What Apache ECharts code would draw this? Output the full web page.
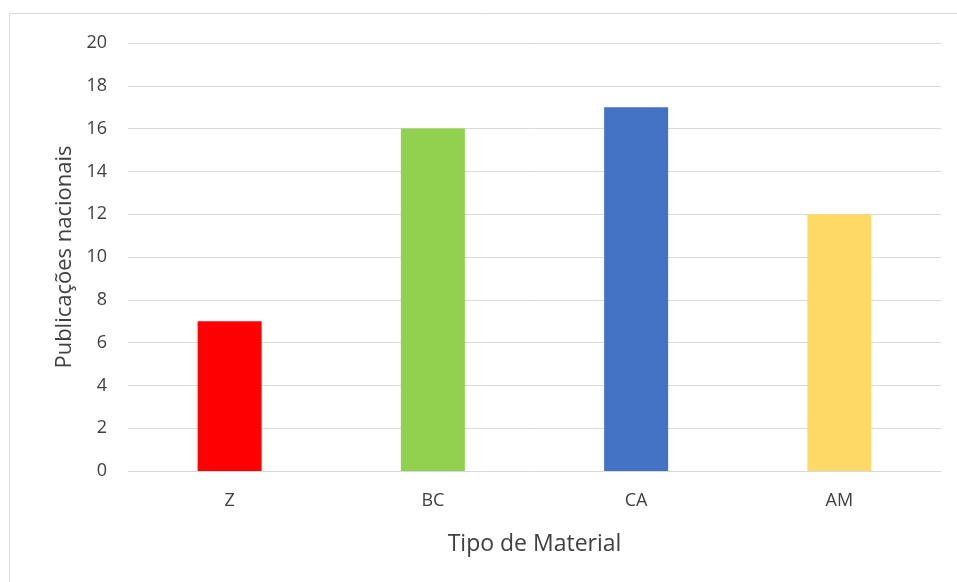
<!DOCTYPE html>
<html>
<head>
<meta charset="utf-8">
<script src="https://cdn.jsdelivr.net/npm/echarts@6/dist/echarts.min.js"></script>
<style>
  html, body { margin: 0; padding: 0; background: #fff; }
  #chart { width: 957px; height: 582px; }
</style>
</head>
<body>
<div id="chart"></div>
<script>
// data
const categories = ['Z', 'BC', 'CA', 'AM'];
const values = [7, 16, 17, 12];
const barColors = ['#FF0000', '#92D050', '#4472C4', '#FFD966'];

const textColor = '#404040';
const font = '"Open Sans", "Noto Sans", sans-serif';

const myChart = echarts.init(document.getElementById('chart'));

const option = {
    backgroundColor: '#fff',
    animation: false,
    graphic: [
        {
            type: 'rect',
            shape: { x: 9.5, y: 13.5, width: 980, height: 600 },
            style: { fill: 'none', stroke: '#d9d9d9', lineWidth: 1 },
            silent: true
        }
    ],
    grid: {
        left: 128,
        right: 16,
        top: 43,
        bottom: 111
    },
    xAxis: {
        type: 'category',
        data: categories,
        name: 'Tipo de Material',
        nameLocation: 'middle',
        nameGap: 62,
        nameTextStyle: { color: textColor, fontSize: 23, fontFamily: font },
        axisLine: { lineStyle: { color: '#d9d9d9', width: 1 } },
        axisTick: { show: false },
        axisLabel: { color: textColor, fontSize: 18, fontFamily: font, margin: 21 }
    },
    yAxis: {
        type: 'value',
        min: 0,
        max: 20,
        interval: 2,
        name: 'Publicações nacionais',
        nameLocation: 'middle',
        nameGap: 52,
        nameTextStyle: { color: textColor, fontSize: 22, fontFamily: font },
        axisLine: { show: false },
        axisTick: { show: false },
        axisLabel: { color: textColor, fontSize: 18, fontFamily: font, margin: 21 },
        splitLine: { lineStyle: { color: '#d9d9d9', width: 1 } }
    },
    series: [
        {
            type: 'bar',
            barWidth: 64,
            data: values.map(function (v, i) {
                return { value: v, itemStyle: { color: barColors[i] } };
            })
        }
    ]
};

myChart.setOption(option);
</script>
</body>
</html>
